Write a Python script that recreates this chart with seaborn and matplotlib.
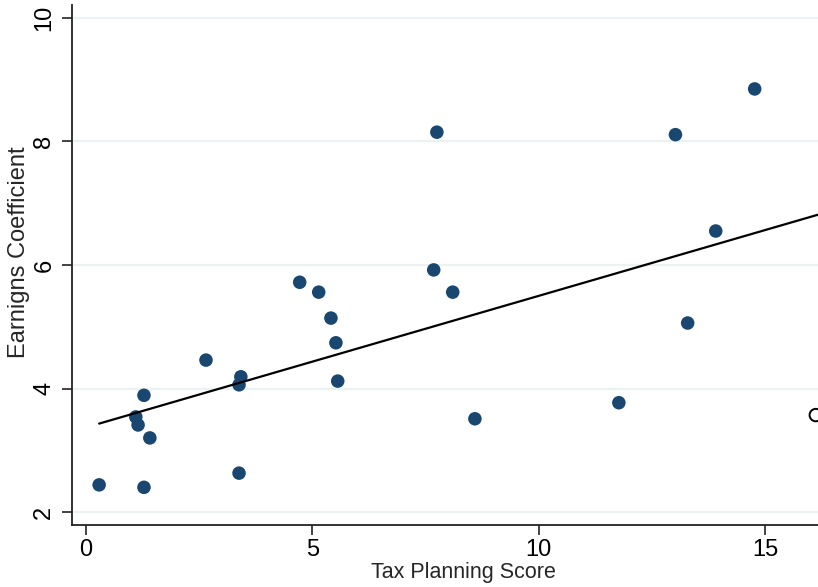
import numpy as np
import pandas as pd
import matplotlib
matplotlib.use('Agg')
import matplotlib.pyplot as plt
import seaborn as sns

# Data
tax_score = [0.29, 1.28, 1.10, 1.15, 1.28, 1.41, 2.65, 3.38, 3.38, 3.42, 4.72, 5.14,
             5.41, 5.52, 5.56, 7.68, 7.75, 8.10, 8.59, 11.77, 13.02, 13.29, 13.91, 14.77]
earnings_coef = [2.44, 2.40, 3.54, 3.41, 3.89, 3.20, 4.46, 2.63, 4.06, 4.19, 5.72, 5.56,
                 5.14, 4.74, 4.12, 5.92, 8.15, 5.56, 3.51, 3.77, 8.11, 5.06, 6.55, 8.85]
# hollow point sitting on the cropped right edge
outlier_x = [16.12]
outlier_y = [3.57]
# fitted line
fit_intercept = 3.37
fit_slope = 0.213
fit_x = [0.29, 17.0]

x_ticks = [0, 5, 10, 15]
y_ticks = [2, 4, 6, 8, 10]

navy = '#1a476f'
grid_col = '#eaf2f3'
axis_col = '#222222'

sns.set_style('white')
plt.rcParams['font.family'] = ['Liberation Sans', 'DejaVu Sans']

df = pd.DataFrame({'tax': tax_score, 'earn': earnings_coef})
fit_df = pd.DataFrame({'x': fit_x})
fit_df['y'] = fit_intercept + fit_slope * fit_df['x']

fig = plt.figure(figsize=(8.18, 5.87), dpi=100)
ax = fig.add_axes([0.088, 0.1056, 0.958, 0.886])

for yt in y_ticks:
    ax.axhline(yt, color=grid_col, linewidth=1.6, zorder=0)

sns.scatterplot(data=df, x='tax', y='earn', color=navy, s=95, edgecolor='none',
                ax=ax, zorder=3)
ax.scatter(outlier_x, outlier_y, s=80, facecolor='none', edgecolor='black',
           linewidth=1.4, zorder=3)
sns.lineplot(data=fit_df, x='x', y='y', color='black', linewidth=1.6, ax=ax, zorder=4)

ax.set_xlim(-0.31, 17.0)
ax.set_ylim(1.79, 10.21)
ax.set_xticks(x_ticks)
ax.set_yticks(y_ticks)
ax.set_xticklabels([str(t) for t in x_ticks], fontsize=17)
ax.set_yticklabels([str(t) for t in y_ticks], fontsize=17, rotation=90, va='center')
ax.tick_params(axis='both', direction='out', length=7, width=1.2, color=axis_col,
               labelcolor='black', bottom=True, left=True)
ax.tick_params(axis='y', pad=5)
ax.tick_params(axis='x', pad=3)

for side in ['top', 'right']:
    ax.spines[side].set_visible(False)
for side in ['left', 'bottom']:
    ax.spines[side].set_color(axis_col)
    ax.spines[side].set_linewidth(1.3)

ax.set_xlabel('Tax Planning Score', fontsize=15.5, labelpad=1)
ax.set_ylabel('Earnigns Coefficient', fontsize=17, labelpad=0)
ax.yaxis.set_label_coords(-0.053, 0.525)

fig.savefig('out.png', dpi=100)
